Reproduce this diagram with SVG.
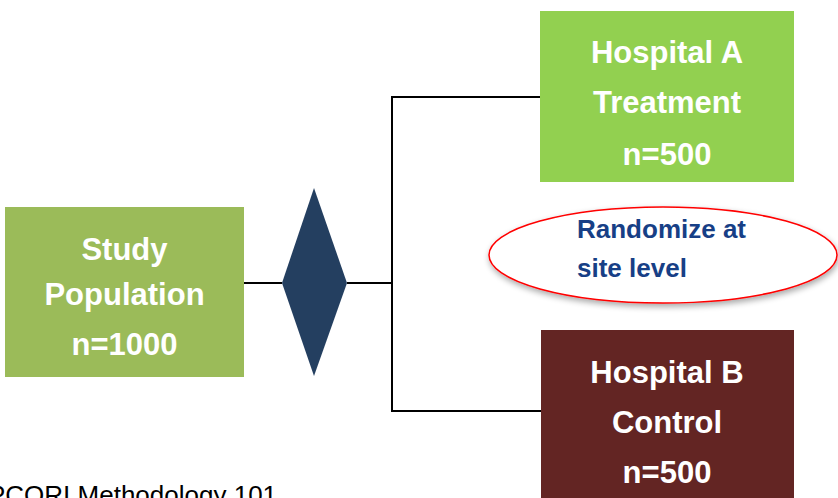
<svg xmlns="http://www.w3.org/2000/svg" width="838" height="498" viewBox="0 0 838 498">
<style>
.lbl{font-family:"Liberation Sans",Arial,sans-serif;font-weight:bold;font-size:31px;fill:#FFFFFF;text-anchor:middle}
.conn{fill:none;stroke:#000000;stroke-width:2}
.note{font-family:"Liberation Sans",Arial,sans-serif;font-weight:bold;font-size:26px;fill:#173F86}
</style>
<defs>
<filter id="sh" x="-20%" y="-30%" width="140%" height="160%">
<feGaussianBlur in="SourceAlpha" stdDeviation="3"/>
<feOffset dx="1" dy="3" result="b"/>
<feComponentTransfer><feFuncA type="linear" slope="0.35"/></feComponentTransfer>
<feMerge><feMergeNode/><feMergeNode in="SourceGraphic"/></feMerge>
</filter>
</defs>
<rect width="838" height="498" fill="#FFFFFF"/>
<g id="connectors">
<polyline class="conn" points="244,283 282,283"/>
<polyline class="conn" points="347,283 392,283"/>
<polyline class="conn" points="540,97 392,97 392,411 541,411"/>
</g>
<g id="study">
<rect x="5" y="207" width="239" height="170" fill="#9BBB59"/>
<text class="lbl" x="124.5" y="260">Study</text>
<text class="lbl" x="124.5" y="305">Population</text>
<text class="lbl" x="124.5" y="355">n=1000</text>
</g>
<g id="diamond">
<polygon points="314,188 347,283 314,376 282,283" fill="#243F60"/>
</g>
<g id="hospitalA">
<rect x="540" y="11" width="254" height="171" fill="#92D050"/>
<text class="lbl" x="667" y="63">Hospital A</text>
<text class="lbl" x="667" y="113">Treatment</text>
<text class="lbl" x="667" y="165">n=500</text>
</g>
<g id="hospitalB">
<rect x="541" y="330" width="253" height="175" fill="#632523"/>
<text class="lbl" x="667" y="383">Hospital B</text>
<text class="lbl" x="667" y="433">Control</text>
<text class="lbl" x="667" y="483">n=500</text>
</g>
<g id="randomize">
<ellipse cx="663" cy="255" rx="174" ry="48" fill="#FFFFFF" stroke="#FF0000" stroke-width="1.5" filter="url(#sh)"/>
<text class="note" x="577" y="238">Randomize at</text>
<text class="note" x="577" y="277">site level</text>
</g>
<g id="footer">
<text x="-12" y="504" font-family="&quot;Liberation Sans&quot;,Arial,sans-serif" font-size="26" fill="#000000">PCORI Methodology 101</text>
</g>
</svg>
